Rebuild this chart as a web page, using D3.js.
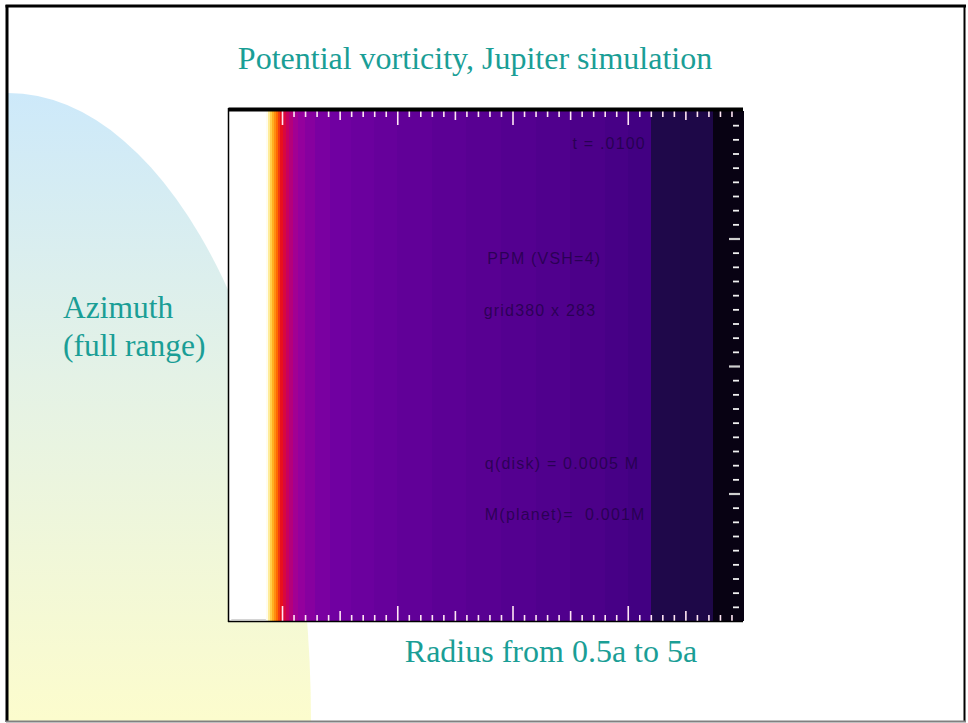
<!DOCTYPE html>
<html><head><meta charset="utf-8">
<script src="https://cdn.jsdelivr.net/npm/d3@7"></script>
<style>body{margin:0;background:#fff}svg{display:block}</style>
</head><body>
<script>
// ---------- data ----------
const titleText = "Potential vorticity, Jupiter simulation";
const yLabelLines = ["Azimuth", "(full range)"];
const xLabelText = "Radius from 0.5a to 5a";

// radial bands: start radius (in units of a) and normalised potential vorticity
const radiusStart = [0.54, 0.862, 0.879, 0.897, 0.914, 0.931, 0.949, 0.966, 0.983, 1.01, 1.036, 1.062, 1.097, 1.14, 1.20, 1.29, 1.42, 1.60, 1.80, 2.00, 2.30, 2.60, 2.90, 3.20, 3.50, 3.80, 4.00, 4.20, 4.45, 4.74];
const pvValues    = [1.00, 0.95, 0.89, 0.84, 0.80, 0.77, 0.74, 0.71, 0.68, 0.65, 0.62, 0.59, 0.56, 0.53, 0.50, 0.47, 0.44, 0.42, 0.40, 0.38, 0.36, 0.34, 0.325, 0.31, 0.29, 0.27, 0.25, 0.125, 0.12, 0.04];
const radiusDomain = [0.54, 5.0];
const azimuthDomain = [0, 360];

const majorRadiusTicks = [1, 2, 3, 4];
const midRadiusTicks = [1.5, 2.5, 3.5, 4.5];
const minorRadiusTicks = d3.range(11, 50).filter(v => v % 5 !== 0).map(v => v / 10);
const majorAzimuthTicks = [90, 180, 270];
const minorAzimuthTicks = d3.range(10, 360, 10).filter(v => v % 90 !== 0);

const annotations = [
  {text: "t = .0100", r: 3.52, az: 333},
  {text: "PPM (VSH=4)", r: 2.78, az: 252},
  {text: "grid380 x 283", r: 2.75, az: 215},
  {text: "q(disk) = 0.0005 M", r: 2.76, az: 107},
  {text: "M(planet)=  0.001M", r: 2.76, az: 71}
];

// colour table (value -> colour)
const cmapStops  = [0.00, 0.05, 0.12, 0.25, 0.35, 0.45, 0.55, 0.62, 0.68, 0.74, 0.80, 0.86, 0.93, 1.00];
const cmapColors = ["#000000", "#0a0318", "#1e0848", "#420082", "#5a0094", "#7200a2", "#9c009c", "#c80060", "#e8101e", "#ff6a00", "#ffb020", "#ffe060", "#fffbe6", "#ffffff"];

// ---------- drawing ----------
const W = 968, H = 723;
const svg = d3.select("body").append("svg").attr("width", W).attr("height", H);

// background shape with gradient
const defs = svg.append("defs");
const grad = defs.append("linearGradient").attr("id", "bg").attr("gradientUnits", "userSpaceOnUse")
  .attr("x1", 0).attr("y1", 93).attr("x2", 0).attr("y2", 720);
grad.append("stop").attr("offset", "0%").attr("stop-color", "#cde9fa");
grad.append("stop").attr("offset", "45%").attr("stop-color", "#e4f2e6");
grad.append("stop").attr("offset", "100%").attr("stop-color", "#fcfccd");
defs.append("clipPath").attr("id", "slideclip").append("rect")
  .attr("x", 8).attr("y", 7).attr("width", 956).attr("height", 714);
svg.append("g").attr("clip-path", "url(#slideclip)")
  .append("ellipse").attr("cx", 8).attr("cy", 722).attr("rx", 303).attr("ry", 629)
  .attr("fill", "url(#bg)");

// slide frame
svg.append("line").attr("x1", 7).attr("x2", 7).attr("y1", 5).attr("y2", 722).attr("stroke", "#000").attr("stroke-width", 3);
svg.append("line").attr("x1", 5.5).attr("x2", 966).attr("y1", 6).attr("y2", 6).attr("stroke", "#000").attr("stroke-width", 3);
svg.append("line").attr("x1", 964.5).attr("x2", 964.5).attr("y1", 5).attr("y2", 722).attr("stroke", "#000").attr("stroke-width", 2);
svg.append("line").attr("x1", 6).attr("x2", 966).attr("y1", 721.5).attr("y2", 721.5).attr("stroke", "#808080").attr("stroke-width", 2);

// text
const teal = "#1a9e96";
const serif = "'Liberation Serif', 'Times New Roman', serif";
svg.append("text").attr("x", 475).attr("y", 69).attr("text-anchor", "middle")
  .attr("font-family", serif).attr("font-size", 32)
  .attr("fill", teal).text(titleText);
svg.append("text").attr("font-family", serif).attr("font-size", 31.5)
  .attr("fill", teal)
  .selectAll("tspan").data(yLabelLines).join("tspan")
  .attr("x", 63).attr("y", (d, i) => 318 + i * 38).text(d => d);
svg.append("text").attr("x", 551).attr("y", 662).attr("text-anchor", "middle")
  .attr("font-family", serif).attr("font-size", 32)
  .attr("fill", teal).text(xLabelText);

// plot
const L = 229, R = 743, T = 111, B = 621;
const x = d3.scaleLinear().domain(radiusDomain).range([L, R]);
const y = d3.scaleLinear().domain(azimuthDomain).range([B, T]);
const color = d3.scaleLinear().domain(cmapStops).range(cmapColors).interpolate(d3.interpolateRgb).clamp(true);

const bands = radiusStart.map((r, i) => ({r0: r, r1: i < radiusStart.length - 1 ? radiusStart[i + 1] : radiusDomain[1], v: pvValues[i]}));
const plot = svg.append("g");
plot.selectAll("rect.band").data(bands).join("rect").attr("class", "band")
  .attr("x", d => x(d.r0)).attr("width", d => x(d.r1) - x(d.r0) + 0.6)
  .attr("y", y(360)).attr("height", y(0) - y(360))
  .attr("fill", d => color(d.v)).attr("shape-rendering", "crispEdges");

// faint gray line under white region
plot.append("line").attr("x1", x(0.56)).attr("x2", x(0.86)).attr("y1", B - 1.5).attr("y2", B - 1.5)
  .attr("stroke", "#d4d4d4").attr("stroke-width", 1);

// annotations (dark text embedded in plot)
plot.selectAll("text.ann").data(annotations).join("text").attr("class", "ann")
  .attr("x", d => x(d.r)).attr("y", d => y(d.az))
  .attr("font-family", "'Liberation Sans', Arial, sans-serif").attr("font-size", 16)
  .attr("letter-spacing", 1.2).style("white-space", "pre")
  .attr("fill", "#1c0040").attr("fill-opacity", 0.72).text(d => d.text);

// ticks
const tickColor = "#ffe6f4";
function drawAxis(axis, transform) {
  const g = plot.append("g").attr("transform", transform).call(axis);
  g.select(".domain").remove();
  g.selectAll("text").remove();
  g.selectAll("line").attr("stroke", tickColor).attr("stroke-width", 1.6);
  return g;
}
drawAxis(d3.axisBottom(x).tickValues(majorRadiusTicks).tickSizeInner(14), `translate(0,${T})`);
drawAxis(d3.axisBottom(x).tickValues(midRadiusTicks).tickSizeInner(9), `translate(0,${T})`);
drawAxis(d3.axisBottom(x).tickValues(minorRadiusTicks).tickSizeInner(6), `translate(0,${T})`);
drawAxis(d3.axisTop(x).tickValues(majorRadiusTicks).tickSizeInner(15), `translate(0,${B})`);
drawAxis(d3.axisTop(x).tickValues(midRadiusTicks).tickSizeInner(10), `translate(0,${B})`);
drawAxis(d3.axisTop(x).tickValues(minorRadiusTicks).tickSizeInner(6), `translate(0,${B})`);
drawAxis(d3.axisLeft(y).tickValues(majorAzimuthTicks).tickSizeInner(11), `translate(${R - 3},0)`).selectAll("line").attr("stroke", "#cfcfcf").attr("stroke-width", 2.2);
drawAxis(d3.axisLeft(y).tickValues(minorAzimuthTicks).tickSizeInner(6), `translate(${R - 4},0)`).selectAll("line").attr("stroke", "#f0f0f0").attr("stroke-width", 1.8);

// plot frame
plot.append("line").attr("x1", L - 0.5).attr("x2", R).attr("y1", T - 1.5).attr("y2", T - 1.5).attr("stroke", "#000").attr("stroke-width", 4);
plot.append("line").attr("x1", L - 0.5).attr("x2", L - 0.5).attr("y1", T - 3).attr("y2", B + 1).attr("stroke", "#000").attr("stroke-width", 1.5);
plot.append("line").attr("x1", L - 1).attr("x2", R).attr("y1", B + 0.5).attr("y2", B + 0.5).attr("stroke", "#000").attr("stroke-width", 1.5);
</script>
</body></html>
